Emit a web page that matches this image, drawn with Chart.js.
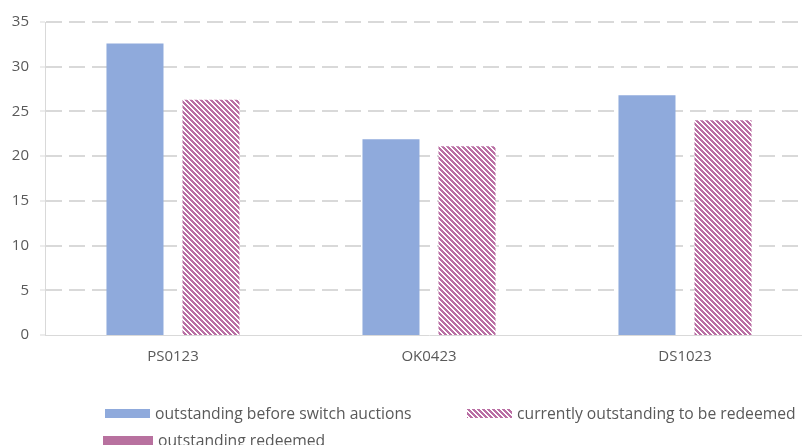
<!DOCTYPE html>
<html>
<head>
<meta charset="utf-8">
<script src="https://cdn.jsdelivr.net/npm/chart.js@4/dist/chart.umd.min.js"></script>
<style>
  html, body { margin: 0; padding: 0; background: #fff; overflow: hidden; }
  #wrap { position: relative; width: 816px; height: 445px; }
  #legend { position: absolute; left: 0; top: 0; width: 802px; height: 445px; pointer-events: none;
            font-family: "Open Sans", sans-serif; font-size: 15.7px; color: #595959; }
  .item { position: absolute; display: flex; align-items: center; white-space: nowrap; height: 20px; }
  .item canvas { margin-right: 5px; }
</style>
</head>
<body>
<div id="wrap">
  <canvas id="chart" width="816" height="445"></canvas>
  <div id="legend"></div>
</div>
<script>
// Data
const categories = ["PS0123", "OK0423", "DS1023"];
const beforeSwitch = [32.6, 21.9, 26.8];
const toBeRedeemed = [26.3, 21.1, 24.0];
const redeemed = [null, null, null];
const seriesNames = ["outstanding before switch auctions", "currently outstanding to be redeemed", "outstanding redeemed"];

const blue = "#8FAADC";
const mauve = "#B8719F";
const stripe = "#BA6FA4";

// Hatch pattern (wide downward diagonal)
function makeHatch(ctx) {
    const n = 5;
    const tile = document.createElement("canvas");
    tile.width = n;
    tile.height = n;
    const t = tile.getContext("2d");
    t.fillStyle = "#fff";
    t.fillRect(0, 0, n, n);
    t.fillStyle = stripe;
    for (let y = 0; y < n; y++) {
        for (let x = 0; x < n; x++) {
            if ((((x - y) % n) + n) % n < 3) t.fillRect(x, y, 1, 1);
        }
    }
    return ctx.createPattern(tile, "repeat");
}

const ctx = document.getElementById("chart").getContext("2d");
const hatch = makeHatch(ctx);

const chart = new Chart(ctx, {
    type: "bar",
    data: {
        labels: categories,
        datasets: [
            { label: seriesNames[0], data: beforeSwitch, backgroundColor: blue, barPercentage: 0.75, categoryPercentage: 0.594 },
            { label: seriesNames[1], data: toBeRedeemed, backgroundColor: hatch, barPercentage: 0.75, categoryPercentage: 0.594 },
            { label: seriesNames[2], data: redeemed, type: "line", backgroundColor: mauve, borderColor: mauve, pointRadius: 0 }
        ]
    },
    options: {
        responsive: false,
        animation: false,
        layout: { padding: { top: 22, left: 0, right: 3, bottom: 70 } },
        plugins: { legend: { display: false }, tooltip: { enabled: false } },
        scales: {
            x: {
                grid: { display: false, drawTicks: false },
                border: { display: true, color: "#D9D9D9", width: 1 },
                ticks: { color: "#595959", font: { family: "Open Sans", size: 15 }, padding: 13 },
                afterFit: (s) => { s.height = 40; }
            },
            y: {
                min: 0,
                max: 35,
                ticks: { stepSize: 5, color: "#595959", font: { family: "Open Sans", size: 15 }, padding: 11 },
                grid: {
                    color: "#D9D9D9",
                    lineWidth: (c) => (c.tick && c.tick.value === 0 ? 0 : 2),
                    drawTicks: true,
                    tickLength: 5,
                    tickWidth: 1,
                    tickColor: "#D9D9D9",
                    tickBorderDash: []
                },
                border: { display: true, color: "#D9D9D9", width: 1, dash: [16, 7] },
                afterFit: (s) => { s.width = 45; }
            }
        }
    }
});

// Legend (HTML, built from the datasets)
const legendPos = [
    { left: 105, top: 403, w: 45 },
    { left: 467, top: 403, w: 45 },
    { left: 103, top: 430, w: 50 }
];
const legend = document.getElementById("legend");
chart.data.datasets.forEach((ds, i) => {
    const item = document.createElement("div");
    item.className = "item";
    item.style.left = legendPos[i].left + "px";
    item.style.top = legendPos[i].top + "px";
    const box = document.createElement("canvas");
    box.width = legendPos[i].w;
    box.height = 9;
    const b = box.getContext("2d");
    b.fillStyle = i === 1 ? makeHatch(b) : ds.backgroundColor;
    b.fillRect(0, 0, box.width, box.height);
    const txt = document.createElement("span");
    txt.textContent = ds.label;
    item.appendChild(box);
    item.appendChild(txt);
    legend.appendChild(item);
});
</script>
</body>
</html>
